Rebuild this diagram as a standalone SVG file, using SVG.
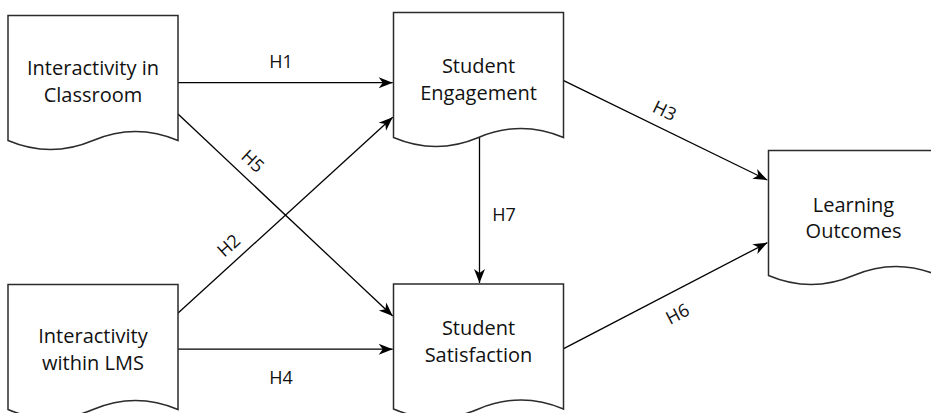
<svg xmlns="http://www.w3.org/2000/svg" xmlns:xlink="http://www.w3.org/1999/xlink" width="931" height="413" viewBox="0 0 931 413">
  <style>
    .doc { fill: #ffffff; stroke: #2b2b2b; stroke-width: 1.5; }
    .lbl { font-family: "Open Sans", "Liberation Sans", sans-serif; font-size: 20px; fill: #111; text-anchor: middle; }
    .edge { fill: none; stroke: #000; stroke-width: 1.3; marker-end: url(#arrow); }
    .elbl { font-family: "Open Sans", "Liberation Sans", sans-serif; font-size: 18px; fill: #111; text-anchor: middle; }
  </style>
  <defs>
    <!-- document shape: flat top, wavy bottom; 170 x 135 -->
    <path id="doc" class="doc" d="M0,0 L170,0 L170,125 Q127.5,107 85,125 Q42.5,143 0,125 Z"/>
    <marker id="arrow" markerUnits="userSpaceOnUse" markerWidth="16" markerHeight="14" viewBox="-15 -7 16 14" refX="0" refY="0" orient="auto">
      <path d="M0,0 L-14,-5.5 L-10,0 L-14,5.5 Z" fill="#000"/>
    </marker>
  </defs>

  <g id="connectors">
    <!-- H1 -->
    <line class="edge" x1="178" y1="82.7" x2="392.7" y2="82.7"/>
    <text class="elbl" x="281" y="68">H1</text>
    <!-- H5 -->
    <line class="edge" x1="178" y1="114" x2="392.7" y2="316"/>
    <text class="elbl" transform="translate(253.3,160.7) rotate(43.2)" dominant-baseline="central">H5</text>
    <!-- H2 -->
    <line class="edge" x1="177" y1="314" x2="392.7" y2="117.3"/>
    <text class="elbl" transform="translate(228.3,245) rotate(-42.3)" dominant-baseline="central">H2</text>
    <!-- H4 -->
    <line class="edge" x1="178" y1="349.2" x2="392.7" y2="349.2"/>
    <text class="elbl" x="281" y="384">H4</text>
    <!-- H7 -->
    <line class="edge" x1="479.5" y1="137.5" x2="479.5" y2="283"/>
    <text class="elbl" x="504" y="220.7">H7</text>
    <!-- H3 -->
    <line class="edge" x1="563.7" y1="80.7" x2="767.3" y2="180"/>
    <text class="elbl" transform="translate(665,110) rotate(26)" dominant-baseline="central">H3</text>
    <!-- H6 -->
    <line class="edge" x1="563.7" y1="348.7" x2="767.3" y2="242.7"/>
    <text class="elbl" transform="translate(677.3,313.3) rotate(-27.5)" dominant-baseline="central">H6</text>
  </g>

  <g id="interactivity-classroom">
    <use xlink:href="#doc" x="8" y="15.5"/>
    <text class="lbl" x="93" y="75">Interactivity in</text>
    <text class="lbl" x="93" y="101.5">Classroom</text>
  </g>

  <g id="student-engagement">
    <use xlink:href="#doc" x="393.5" y="12.5"/>
    <text class="lbl" x="478.5" y="73">Student</text>
    <text class="lbl" x="478.5" y="99.5">Engagement</text>
  </g>

  <g id="interactivity-lms">
    <use xlink:href="#doc" x="8" y="284.5"/>
    <text class="lbl" x="93" y="343">Interactivity</text>
    <text class="lbl" x="93" y="369.5">within LMS</text>
  </g>

  <g id="student-satisfaction">
    <use xlink:href="#doc" x="393.5" y="284"/>
    <text class="lbl" x="478.5" y="335">Student</text>
    <text class="lbl" x="478.5" y="362">Satisfaction</text>
  </g>

  <g id="learning-outcomes">
    <use xlink:href="#doc" x="768.5" y="150.5"/>
    <text class="lbl" x="853.5" y="211.5">Learning</text>
    <text class="lbl" x="853.5" y="237.5">Outcomes</text>
  </g>
</svg>
